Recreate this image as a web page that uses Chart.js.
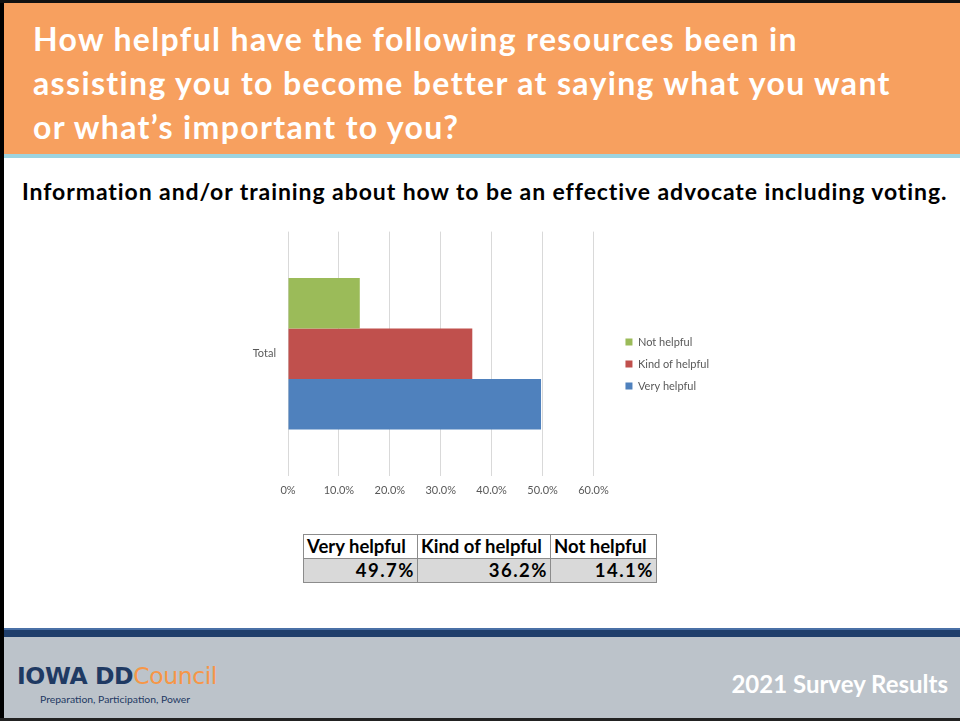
<!DOCTYPE html>
<html>
<head>
<meta charset="utf-8">
<script src="https://cdn.jsdelivr.net/npm/chart.js@4.4.0/dist/chart.umd.min.js"></script>
<style>
  body { margin: 0; width: 960px; height: 721px; overflow: hidden; background: #fff; }
  .slide { position: absolute; left: 0; top: 0; width: 960px; height: 721px; background: #fff; font-family: Lato, "Open Sans", sans-serif; }
  .edge-left { position: absolute; left: 0; top: 0; width: 4px; height: 721px; background: #000; }
  .edge-top { position: absolute; left: 0; top: 0; width: 960px; height: 3px; background: #111; }
  .edge-bottom { position: absolute; left: 0; top: 718px; width: 960px; height: 3px; background: #222; }
  .header { position: absolute; left: 4px; top: 3px; width: 956px; height: 151px; background: #f7a05f; }
  .header-rule { position: absolute; left: 4px; top: 154px; width: 956px; height: 4px; background: #9dd4e0; }
  .title { position: absolute; left: 33px; top: 17px; color: #fff; font-weight: 700; font-size: 32px; letter-spacing: 1.35px; line-height: 44px; white-space: nowrap; }
  .subtitle { position: absolute; left: 22px; top: 177px; color: #000; font-weight: 700; font-size: 23px; letter-spacing: 0.92px; line-height: 28px; white-space: nowrap; }
  #chartBox { position: absolute; left: 230px; top: 213px; width: 489px; height: 292px; }
  table.values { position: absolute; left: 303px; top: 534px; border-collapse: collapse; font-weight: 700; font-size: 18.5px; color: #000; }
  table.values td { border: 1px solid #8c8c8c; height: 23px; padding: 0 3px; line-height: 23px; white-space: nowrap; }
  table.values tr.nums td { background: #d9d9d9; text-align: right; letter-spacing: 1.5px; padding-right: 2px; }
  .band { position: absolute; left: 4px; top: 628px; width: 956px; height: 9px; background: #1f3e6b; border-top: 2px solid #4a70a6; box-sizing: border-box; }
  .footer { position: absolute; left: 4px; top: 637px; width: 956px; height: 81px; background: #bcc3ca; }
  .logo { position: absolute; left: 17px; top: 662px; font-family: "DejaVu Sans", sans-serif; font-size: 23.5px; letter-spacing: -0.4px; white-space: nowrap; }
  .logo .iowa { color: #1f3a63; font-weight: 700; }
  .logo .council { color: #f79646; }
  .tagline { position: absolute; left: 40px; top: 693px; font-size: 10.4px; color: #1f3a63; white-space: nowrap; }
  .year { position: absolute; right: 12px; top: 669px; color: #fff; font-weight: 700; font-size: 24px; white-space: nowrap; }
</style>
</head>
<body>
<div class="slide">
  <div class="header"></div>
  <div class="header-rule"></div>
  <div class="edge-left"></div>
  <div class="edge-top"></div>
  <div class="title">How helpful have the following resources been in<br>assisting you to become better at saying what you want<br>or what’s important to you?</div>
  <div class="subtitle">Information and/or training about how to be an effective advocate including voting.</div>
  <div id="chartBox"><canvas id="helpChart"></canvas></div>
  <table class="values">
    <tr><td style="width:107px">Very helpful</td><td style="width:126px">Kind of helpful</td><td style="width:99px">Not helpful</td></tr>
    <tr class="nums"><td>49.7%</td><td>36.2%</td><td>14.1%</td></tr>
  </table>
  <div class="band"></div>
  <div class="footer"></div>
  <div class="logo"><span class="iowa">IOWA DD</span><span class="council">Council</span></div>
  <div class="tagline">Preparation, Participation, Power</div>
  <div class="year">2021 Survey Results</div>
  <div class="edge-bottom"></div>
</div>

<script>
// Survey responses, percent of respondents
const categories = ['Total'];
const seriesNames = ['Not helpful', 'Kind of helpful', 'Very helpful'];
const notHelpful = [14.1];
const kindOfHelpful = [36.2];
const veryHelpful = [49.7];
const xTickLabels = ['0%', '10.0%', '20.0%', '30.0%', '40.0%', '50.0%', '60.0%'];

const seriesColors = ['#9bbb59', '#c0504d', '#4f81bd'];
const seriesValues = [notHelpful, kindOfHelpful, veryHelpful];

const labelColor = '#595959';
const labelFont = { family: 'Lato, "Open Sans", sans-serif', size: 11 };

new Chart(document.getElementById('helpChart'), {
    type: 'bar',
    data: {
        labels: categories,
        datasets: seriesNames.map((name, i) => ({
            label: name,
            data: seriesValues[i],
            backgroundColor: seriesColors[i],
            borderWidth: 0,
            categoryPercentage: 0.62,
            barPercentage: 1
        }))
    },
    options: {
        indexAxis: 'y',
        responsive: true,
        maintainAspectRatio: false,
        animation: false,
        layout: { padding: { top: 1, right: 0, bottom: 0, left: 0 } },
        scales: {
            x: {
                min: 0,
                max: 60,
                border: { display: false },
                grid: { color: '#d9d9d9', drawTicks: false },
                ticks: {
                    stepSize: 10,
                    padding: 8,
                    color: labelColor,
                    font: labelFont,
                    callback: (value, index) => xTickLabels[index]
                }
            },
            y: {
                border: { display: false },
                grid: { display: false, drawTicks: false },
                ticks: { padding: 12, color: labelColor, font: labelFont },
                afterFit: scale => { scale.width = 58; }
            },
            // empty spacer between the plot and the legend
            gap: {
                axis: 'y',
                type: 'linear',
                position: 'right',
                border: { display: false },
                grid: { display: false, drawTicks: false },
                ticks: { display: false },
                afterFit: scale => { scale.width = 21; }
            }
        },
        plugins: {
            legend: {
                position: 'right',
                maxWidth: 110,
                // blank title only nudges the item column down a little
                title: { display: true, text: '', font: { size: 1 }, padding: { top: 4, bottom: 4 } },
                labels: {
                    boxWidth: 7,
                    boxHeight: 7,
                    padding: 11,
                    color: labelColor,
                    font: labelFont
                }
            },
            tooltip: { enabled: false }
        }
    }
});
</script>
</body>
</html>
